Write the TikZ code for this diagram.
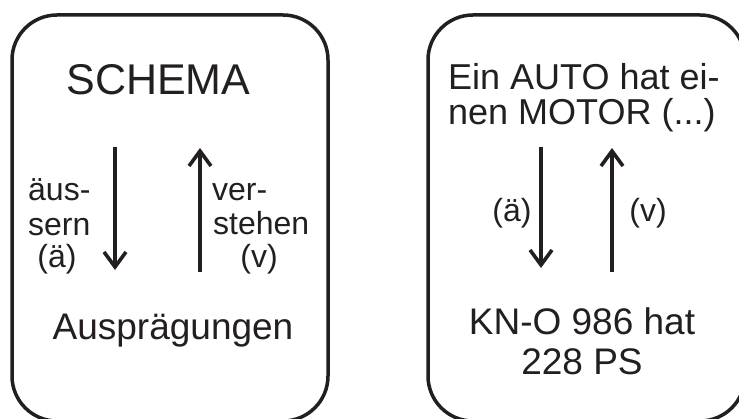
\documentclass[tikz,border=0pt]{standalone}
\usepackage{fontspec}
\setmainfont{Liberation Sans}
\usetikzlibrary{arrows.meta}
\definecolor{ink}{RGB}{35,31,32}
\begin{document}
\begin{tikzpicture}[x=1pt,y=-1pt,
  frame/.style={draw=ink,line width=3.5pt,rounded corners=45pt},
  flow/.style={draw=ink,line width=3.8pt,-{Straight Barb[length=15pt,width=22pt,line width=3.6pt]}},
  txt/.style={text=ink,inner sep=0pt,anchor=base},
  big/.style={txt,font=\fontsize{43pt}{43pt}\selectfont},
  mid/.style={txt,font=\fontsize{37pt}{37pt}\selectfont},
  head/.style={txt,font=\fontsize{36pt}{36pt}\selectfont},
  small/.style={txt,font=\fontsize{32pt}{32pt}\selectfont}]
\clip (0,0) rectangle (739,419);
\fill[white] (0,0) rectangle (739,419);

% two framed panels
\draw[frame] (12,15) rectangle (328,421);
\draw[frame] (428,15) rectangle (745,421);

% left panel: schema and its expressions
\node[big] (schema) at (158.5,95) {SCHEMA};
\node[small,anchor=base west] (aeus1) at (28,201) {äus-};
\node[small,anchor=base west] (aeus2) at (28,236) {sern};
\node[small] (aeus3) at (57,268) {(ä)};
\node[small,anchor=base west] (vers1) at (212,201) {ver-};
\node[small,anchor=base west] (vers2) at (213,235) {stehen};
\node[small] (vers3) at (259,268) {(v)};
\node[mid] (auspr) at (173,340) {Ausprägungen};
\coordinate (ldTop) at (115,147);
\coordinate (ldBot) at (115,270);
\coordinate (luBot) at (200,272);
\coordinate (luTop) at (200,148);
\draw[flow] (ldTop) -- (ldBot);
\draw[flow] (luBot) -- (luTop);

% right panel: example sentence and instance
\node[head,anchor=base west] (auto1) at (448,90) {Ein AUTO hat ei-};
\node[head,anchor=base west] (auto2) at (448,125) {nen MOTOR (...)};
\node[small] (rae) at (512,222) {(ä)};
\node[small] (rv) at (648,222) {(v)};
\node[mid] (kn1) at (582,335) {KN-O 986 hat};
\node[mid] (kn2) at (582,375) {228 PS};
\coordinate (rdTop) at (541,147);
\coordinate (rdBot) at (541,268);
\coordinate (ruBot) at (612,272);
\coordinate (ruTop) at (612,148);
\draw[flow] (rdTop) -- (rdBot);
\draw[flow] (ruBot) -- (ruTop);
\end{tikzpicture}
\end{document}
